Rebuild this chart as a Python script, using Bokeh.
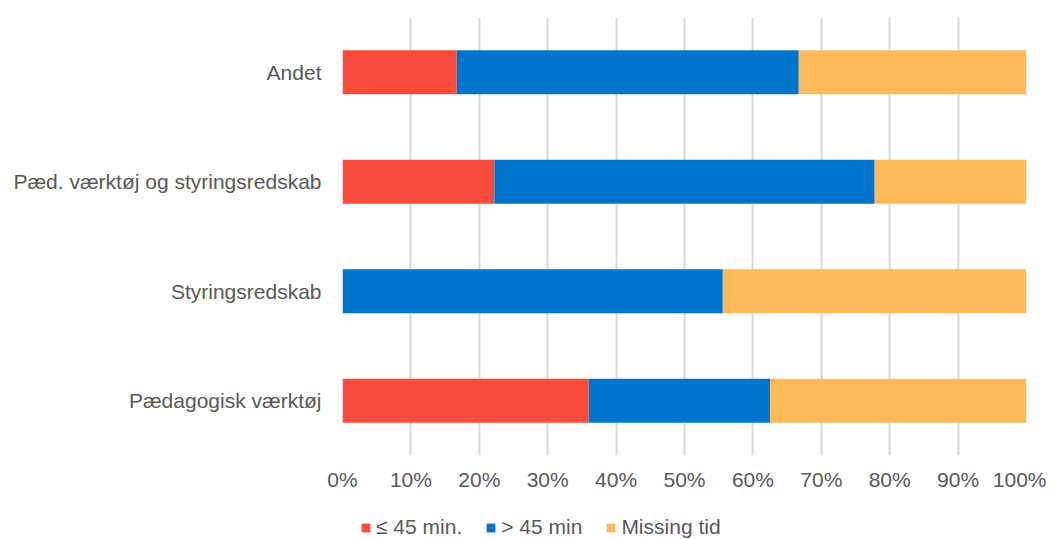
from bokeh.plotting import figure
from bokeh.layouts import column
from bokeh.models import FactorRange, Range1d, FixedTicker, PrintfTickFormatter, Legend, LegendItem, ColumnDataSource
from bokeh.embed import file_html
from bokeh.resources import INLINE

categories = ["Pædagogisk værktøj", "Styringsredskab", "Pæd. værktøj og styringsredskab", "Andet"]
le45 = [36.0, 0.0, 22.2, 16.7]
gt45 = [26.5, 55.6, 55.6, 50.0]
missing = [37.5, 44.4, 22.2, 33.3]
series = ["≤ 45 min.", "> 45 min", "Missing tid"]
colors = ["#FA4C3C", "#0075CE", "#FFB95A"]
ticks = [0, 10, 20, 30, 40, 50, 60, 70, 80, 90, 100]

src = ColumnDataSource(dict(cat=categories, a=le45, b=gt45, c=missing))

p = figure(width=1046, height=500, y_range=FactorRange(*categories), x_range=Range1d(0, 100),
           output_backend="svg", toolbar_location=None,
           min_border_left=342, min_border_right=20, min_border_top=17, min_border_bottom=45)

rs = p.hbar_stack(["a", "b", "c"], y="cat", height=0.4, color=colors, source=src, line_width=0)

p.xaxis.ticker = FixedTicker(ticks=ticks)
p.xaxis.formatter = PrintfTickFormatter(format="%d%%")
font = "Liberation Sans"
for ax in (p.xaxis, p.yaxis):
    ax.axis_line_color = None
    ax.major_tick_line_color = None
    ax.minor_tick_line_color = None
    ax.major_tick_out = 0
    ax.major_tick_in = 0
    ax.major_label_text_font = font
    ax.major_label_text_font_size = "21px"
    ax.major_label_text_color = "#595959"
p.xaxis.major_label_standoff = 12
p.yaxis.major_label_standoff = 21

p.xgrid.grid_line_color = "#D9D9D9"
p.xgrid.grid_line_width = 2
p.ygrid.grid_line_color = None
p.outline_line_color = None

# legend strip below the chart (its frame is aligned with the chart's frame)
lg = figure(width=1046, height=39, x_range=Range1d(0, 100), y_range=FactorRange(*categories),
            x_axis_type=None, y_axis_type=None, output_backend="svg", toolbar_location=None,
            min_border_left=342, min_border_right=20, min_border_top=0, min_border_bottom=0)
lg.grid.grid_line_color = None
lg.outline_line_color = None
swatches = lg.hbar_stack(["a", "b", "c"], y="cat", height=0.4, color=colors, source=src, line_width=0)
for r in swatches:
    r.visible = False

legend = Legend(items=[LegendItem(label=s, renderers=[r]) for s, r in zip(series, swatches)],
                orientation="horizontal", location=(18, 0),
                glyph_width=11, glyph_height=11, label_standoff=5, spacing=23,
                padding=0, margin=0, border_line_alpha=0, background_fill_alpha=0,
                inactive_fill_alpha=0,
                label_text_font=font, label_text_font_size="21px", label_text_color="#595959")
lg.add_layout(legend, "center")

layout = column(p, lg, spacing=0)
open("out.html", "w").write(file_html(layout, INLINE))
